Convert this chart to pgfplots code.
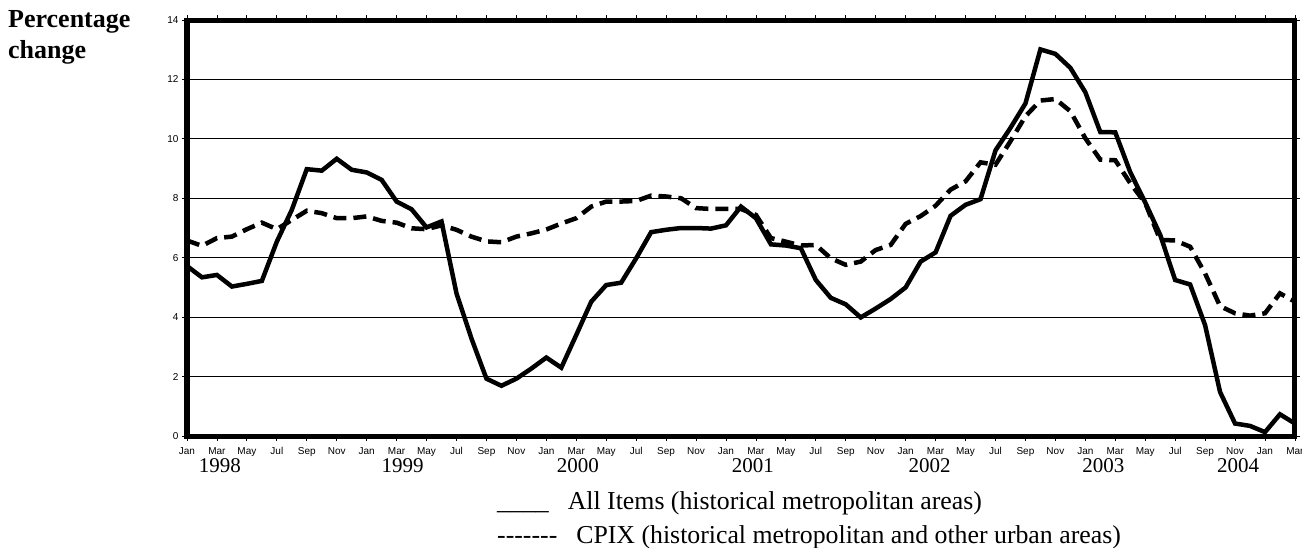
\documentclass[border=0pt]{standalone}
\usepackage{fontspec}
\setmainfont{Liberation Serif}
\setsansfont{Liberation Sans}
\usepackage{pgfplots}
\pgfplotsset{compat=1.18}
\pgfplotstableread{
m v
0 5.72
1 5.34
2 5.42
3 5.03
4 5.12
5 5.22
6 6.54
7 7.61
8 8.98
9 8.93
10 9.33
11 8.96
12 8.87
13 8.62
14 7.89
15 7.63
16 7.02
17 7.22
18 4.80
19 3.28
20 1.93
21 1.69
22 1.93
23 2.27
24 2.64
25 2.30
26 3.40
27 4.52
28 5.08
29 5.16
30 5.98
31 6.86
32 6.94
33 7.00
34 7.00
35 6.98
36 7.09
37 7.72
38 7.33
39 6.45
40 6.41
41 6.32
42 5.25
43 4.65
44 4.43
45 3.99
46 4.29
47 4.61
48 5.00
49 5.87
50 6.18
51 7.41
52 7.78
53 7.97
54 9.61
55 10.37
56 11.19
57 13.01
58 12.86
59 12.39
60 11.57
61 10.23
62 10.22
63 8.88
64 7.86
65 6.77
66 5.25
67 5.10
68 3.73
69 1.48
70 0.42
71 0.34
72 0.13
73 0.73
74 0.42
}\allitems
\pgfplotstableread{
m v
0 6.58
1 6.40
2 6.66
3 6.71
4 6.96
5 7.18
6 6.96
7 7.27
8 7.58
9 7.50
10 7.33
11 7.33
12 7.39
13 7.24
14 7.18
15 6.99
16 6.96
17 7.09
18 6.94
19 6.71
20 6.55
21 6.52
22 6.71
23 6.82
24 6.95
25 7.15
26 7.33
27 7.72
28 7.89
29 7.89
30 7.91
31 8.09
32 8.06
33 8.00
34 7.67
35 7.64
36 7.64
37 7.64
38 7.44
39 6.66
40 6.54
41 6.41
42 6.43
43 5.98
44 5.76
45 5.87
46 6.26
47 6.43
48 7.14
49 7.40
50 7.75
51 8.29
52 8.57
53 9.21
54 9.13
55 9.92
56 10.76
57 11.29
58 11.34
59 10.93
60 10.02
61 9.30
62 9.28
63 8.51
64 7.84
65 6.60
66 6.58
67 6.37
68 5.47
69 4.37
70 4.13
71 4.05
72 4.13
73 4.80
74 4.52
}\cpix
\begin{document}
\begin{tikzpicture}[x=1pt,y=1pt]
\useasboundingbox (-187,-111) rectangle (1115,436);
\begin{axis}[
  at={(0,0)}, anchor=south west,
  scale only axis, width=1108pt, height=416pt,
  xmin=0, xmax=74, ymin=0, ymax=14,
  xtick={0,2,...,74},
  xticklabels={Jan,Mar,May,Jul,Sep,Nov,Jan,Mar,May,Jul,Sep,Nov,Jan,Mar,May,Jul,Sep,Nov,Jan,Mar,May,Jul,Sep,Nov,Jan,Mar,May,Jul,Sep,Nov,Jan,Mar,May,Jul,Sep,Nov,Jan,Mar},
  ytick={0,2,...,14},
  ymajorgrids,
  grid style={black, line width=0.9pt},
  axis line style={line width=5pt},
  tick align=outside,
  major tick length=5pt,
  tick style={black, line width=0.8pt},
  xticklabel style={font=\sffamily\fontsize{10}{11}\selectfont, anchor=base, yshift=-13.5pt},
  yticklabel style={font=\sffamily\fontsize{10}{11}\selectfont},
  /pgf/number format/assume math mode=true,
  clip=false,
]
\addplot[black, line width=4.5pt, line join=miter] table[x=m,y=v]{\allitems};
\addplot[black, line width=4.5pt, dash pattern=on 13pt off 7pt] table[x=m,y=v]{\cpix};
\node[font=\fontsize{21}{24}\selectfont] at (axis cs:2.2,0) [yshift=-30pt] {1998};
\node[font=\fontsize{21}{24}\selectfont] at (axis cs:14.4,0) [yshift=-30pt] {1999};
\node[font=\fontsize{21}{24}\selectfont] at (axis cs:26.1,0) [yshift=-30pt] {2000};
\node[font=\fontsize{21}{24}\selectfont] at (axis cs:37.8,0) [yshift=-30pt] {2001};
\node[font=\fontsize{21}{24}\selectfont] at (axis cs:49.6,0) [yshift=-30pt] {2002};
\node[font=\fontsize{21}{24}\selectfont] at (axis cs:61.2,0) [yshift=-30pt] {2003};
\node[font=\fontsize{21}{24}\selectfont] at (axis cs:70.2,0) [yshift=-30pt] {2004};
\end{axis}
\node[anchor=north west, inner sep=0pt, align=left, font=\bfseries\fontsize{26}{31}\selectfont] at (-179,426) {Percentage\\change};
\node[anchor=west, inner sep=0pt, font=\fontsize{25.8}{30}\selectfont] at (310,-67) {\_\_\_\_\hspace{19pt}All Items (historical metropolitan areas)};
\node[anchor=west, inner sep=0pt, font=\fontsize{25.8}{30}\selectfont] at (310,-101) {-{}-{}-{}-{}-{}-{}-\hspace{19pt}CPIX (historical metropolitan and other urban areas)};
\end{tikzpicture}
\end{document}
